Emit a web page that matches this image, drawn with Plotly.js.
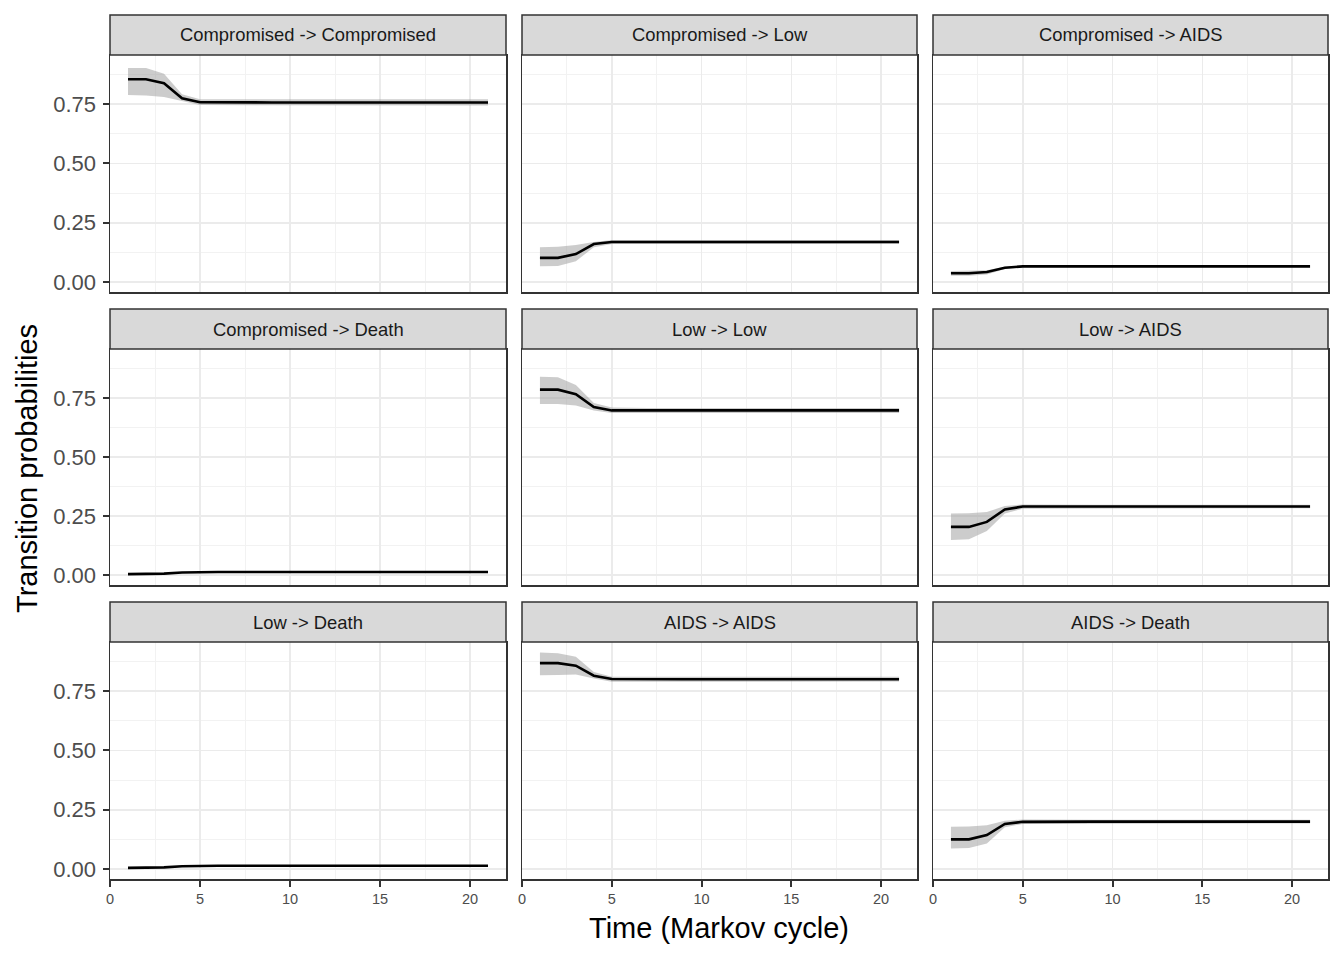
<!DOCTYPE html>
<html>
<head>
<meta charset="utf-8">
<script src="https://cdn.plot.ly/plotly-3.0.1.min.js"></script>
<style>body{margin:0;background:#fff}</style>
</head>
<body>
<div id="myPlot" style="width:1344px;height:960px"></div>
<script>
// Markov cycles
let cycles = [1,2,3,4,5,6,7,8,9,10,11,12,13,14,15,16,17,18,19,20,21];

let panelTitles = ['Compromised -> Compromised','Compromised -> Low','Compromised -> AIDS',
  'Compromised -> Death','Low -> Low','Low -> AIDS',
  'Low -> Death','AIDS -> AIDS','AIDS -> Death'];

// mean, lower and upper bound per transition
let compCompMean = [0.855,0.855,0.838,0.775,0.758, 0.757,0.757,0.757,0.757,0.757,0.757,0.757,0.757, 0.757,0.757,0.757,0.757,0.757,0.757,0.757,0.757];
let compCompLow  = [0.788,0.786,0.780,0.763,0.746, 0.744,0.744,0.744,0.744,0.744,0.744,0.744,0.744, 0.744,0.744,0.744,0.744,0.744,0.744,0.744,0.744];
let compCompHigh = [0.902,0.902,0.878,0.792,0.771, 0.770,0.770,0.770,0.770,0.770,0.770,0.770,0.770, 0.770,0.770,0.770,0.770,0.770,0.770,0.770,0.770];

let compLowMean = [0.102,0.102,0.118,0.160,0.169, 0.169,0.169,0.169,0.169,0.169,0.169,0.169,0.169, 0.169,0.169,0.169,0.169,0.169,0.169,0.169,0.169];
let compLowLow  = [0.067,0.068,0.088,0.147,0.160, 0.161,0.161,0.161,0.161,0.161,0.161,0.161,0.161, 0.161,0.161,0.161,0.161,0.161,0.161,0.161,0.161];
let compLowHigh = [0.147,0.149,0.156,0.169,0.177, 0.177,0.177,0.177,0.177,0.177,0.177,0.177,0.177, 0.177,0.177,0.177,0.177,0.177,0.177,0.177,0.177];

let compAidsMean = [0.037,0.037,0.042,0.060,0.066, 0.066,0.066,0.066,0.066,0.066,0.066,0.066,0.066, 0.066,0.066,0.066,0.066,0.066,0.066,0.066,0.066];
let compAidsLow  = [0.026,0.026,0.032,0.055,0.062, 0.062,0.062,0.062,0.062,0.062,0.062,0.062,0.062, 0.062,0.062,0.062,0.062,0.062,0.062,0.062,0.062];
let compAidsHigh = [0.046,0.047,0.050,0.064,0.069, 0.069,0.069,0.069,0.069,0.069,0.069,0.069,0.069, 0.069,0.069,0.069,0.069,0.069,0.069,0.069,0.069];

let compDeathMean = [0.004,0.004,0.006,0.011,0.013, 0.013,0.013,0.013,0.013,0.013,0.013,0.013,0.013, 0.013,0.013,0.013,0.013,0.013,0.013,0.013,0.013];
let compDeathLow  = [0.002,0.002,0.004,0.010,0.012, 0.012,0.012,0.012,0.012,0.012,0.012,0.012,0.012, 0.012,0.012,0.012,0.012,0.012,0.012,0.012,0.012];
let compDeathHigh = [0.006,0.006,0.008,0.013,0.014, 0.014,0.014,0.014,0.014,0.014,0.014,0.014,0.014, 0.014,0.014,0.014,0.014,0.014,0.014,0.014,0.014];

let lowLowMean = [0.785,0.785,0.766,0.711,0.697, 0.697,0.697,0.697,0.697,0.697,0.697,0.697,0.697, 0.697,0.697,0.697,0.697,0.697,0.697,0.697,0.697];
let lowLowLow  = [0.724,0.724,0.718,0.697,0.686, 0.686,0.686,0.686,0.686,0.686,0.686,0.686,0.686, 0.686,0.686,0.686,0.686,0.686,0.686,0.686,0.686];
let lowLowHigh = [0.840,0.837,0.805,0.728,0.709, 0.707,0.707,0.707,0.707,0.707,0.707,0.707,0.707, 0.707,0.707,0.707,0.707,0.707,0.707,0.707,0.707];

let lowAidsMean = [0.204,0.204,0.225,0.278,0.290, 0.290,0.290,0.290,0.290,0.290,0.290,0.290,0.290, 0.290,0.290,0.290,0.290,0.290,0.290,0.290,0.290];
let lowAidsLow  = [0.149,0.152,0.187,0.261,0.281, 0.283,0.283,0.283,0.283,0.283,0.283,0.283,0.283, 0.283,0.283,0.283,0.283,0.283,0.283,0.283,0.283];
let lowAidsHigh = [0.261,0.262,0.267,0.292,0.299, 0.298,0.298,0.298,0.298,0.298,0.298,0.298,0.298, 0.298,0.298,0.298,0.298,0.298,0.298,0.298,0.298];

let lowDeathMean = [0.005,0.005,0.007,0.012,0.014, 0.014,0.014,0.014,0.014,0.014,0.014,0.014,0.014, 0.014,0.014,0.014,0.014,0.014,0.014,0.014,0.014];
let lowDeathLow  = [0.003,0.003,0.005,0.011,0.013, 0.013,0.013,0.013,0.013,0.013,0.013,0.013,0.013, 0.013,0.013,0.013,0.013,0.013,0.013,0.013,0.013];
let lowDeathHigh = [0.007,0.007,0.009,0.014,0.015, 0.015,0.015,0.015,0.015,0.015,0.015,0.015,0.015, 0.015,0.015,0.015,0.015,0.015,0.015,0.015,0.015];

let aidsAidsMean = [0.868,0.868,0.857,0.815,0.801, 0.800,0.800,0.800,0.800,0.800,0.800,0.800,0.800, 0.800,0.800,0.800,0.800,0.800,0.800,0.800,0.800];
let aidsAidsLow  = [0.817,0.818,0.820,0.803,0.789, 0.790,0.790,0.790,0.790,0.790,0.790,0.790,0.790, 0.790,0.790,0.790,0.790,0.790,0.790,0.790,0.790];
let aidsAidsHigh = [0.913,0.910,0.895,0.831,0.810, 0.810,0.810,0.810,0.810,0.810,0.810,0.810,0.810, 0.810,0.810,0.810,0.810,0.810,0.810,0.810,0.810];

let aidsDeathMean = [0.125,0.125,0.143,0.190,0.199, 0.200,0.200,0.200,0.200,0.200,0.200,0.200,0.200, 0.200,0.200,0.200,0.200,0.200,0.200,0.200,0.200];
let aidsDeathLow  = [0.087,0.089,0.108,0.176,0.190, 0.192,0.192,0.192,0.192,0.192,0.192,0.192,0.192, 0.192,0.192,0.192,0.192,0.192,0.192,0.192,0.192];
let aidsDeathHigh = [0.178,0.179,0.185,0.204,0.209, 0.208,0.208,0.208,0.208,0.208,0.208,0.208,0.208, 0.208,0.208,0.208,0.208,0.208,0.208,0.208,0.208];

let means = [compCompMean,compLowMean,compAidsMean,compDeathMean,lowLowMean,lowAidsMean,lowDeathMean,aidsAidsMean,aidsDeathMean];
let lows  = [compCompLow,compLowLow,compAidsLow,compDeathLow,lowLowLow,lowAidsLow,lowDeathLow,aidsAidsLow,aidsDeathLow];
let highs = [compCompHigh,compLowHigh,compAidsHigh,compDeathHigh,lowLowHigh,lowAidsHigh,lowDeathHigh,aidsAidsHigh,aidsDeathHigh];

// pixel geometry of the facet grid
let W = 1344, H = 960;
let L = 110, R = 1328, T = 15, B = 879;
let cols = [[110,506],[522,917],[933,1328]];
let rows = [{strip:[15,55], panel:[55,292]}, {strip:[309,349], panel:[349,585]}, {strip:[602,642], panel:[642,879]}];
let px = x => (x - L) / (R - L);
let py = y => (B - y) / (B - T);

let font = 'Liberation Sans, Arial, sans-serif';
let data = [];
let layout = {
  width: W, height: H,
  margin: {l: L, r: W - R, t: T, b: H - B},
  paper_bgcolor: '#fff', plot_bgcolor: '#fff',
  showlegend: false,
  shapes: [], annotations: []
};

for (let i = 0; i < 9; i++) {
  let r = Math.floor(i / 3), c = i % 3;
  let sfx = i === 0 ? '' : String(i + 1);
  let xs = cycles.concat(cycles.slice().reverse());
  let ys = highs[i].concat(lows[i].slice().reverse());
  data.push({x: xs, y: ys, xaxis: 'x' + sfx, yaxis: 'y' + sfx, mode: 'lines', fill: 'toself',
    fillcolor: 'rgba(153,153,153,0.5)', line: {width: 0}, hoverinfo: 'skip'});
  data.push({x: cycles, y: means[i], xaxis: 'x' + sfx, yaxis: 'y' + sfx, mode: 'lines',
    line: {color: '#000', width: 2.6}});

  let bottom = r === 2, left = c === 0;
  layout['xaxis' + sfx] = {
    domain: [px(cols[c][0]), px(cols[c][1])], anchor: 'y' + sfx,
    range: [0, 22], tickvals: [0,5,10,15,20], ticktext: ['0','5','10','15','20'],
    showgrid: true, gridcolor: '#EBEBEB', gridwidth: 1.6, zeroline: false,
    minor: {tick0: 0, dtick: 2.5, showgrid: true, gridcolor: '#F2F2F2', gridwidth: 1},
    showline: true, mirror: true, linecolor: '#333333', linewidth: 1.5,
    ticks: bottom ? 'outside' : '', ticklen: 6, tickwidth: 2, tickcolor: '#333333',
    showticklabels: bottom, tickfont: {family: font, size: 14.5, color: '#4D4D4D'}
  };
  layout['yaxis' + sfx] = {
    domain: [py(rows[r].panel[1]), py(rows[r].panel[0])], anchor: 'x' + sfx,
    range: [-0.042, 0.957], tickvals: [0,0.25,0.5,0.75], ticktext: ['0.00','0.25','0.50','0.75'],
    showgrid: true, gridcolor: '#EBEBEB', gridwidth: 1.6, zeroline: false,
    minor: {tick0: 0, dtick: 0.125, showgrid: true, gridcolor: '#F2F2F2', gridwidth: 1},
    showline: true, mirror: true, linecolor: '#333333', linewidth: 1.5,
    ticks: left ? 'outside' : '', ticklen: 6, tickwidth: 2, tickcolor: '#333333',
    ticklabelstandoff: 2,
    showticklabels: left, tickfont: {family: font, size: 22, color: '#4D4D4D'}
  };

  // strip
  layout.shapes.push({type: 'rect', xref: 'paper', yref: 'paper',
    x0: px(cols[c][0]), x1: px(cols[c][1]), y0: py(rows[r].strip[1]), y1: py(rows[r].strip[0]),
    fillcolor: '#D9D9D9', line: {color: '#333333', width: 1.5}});
  layout.annotations.push({xref: 'paper', yref: 'paper', showarrow: false,
    x: px((cols[c][0] + cols[c][1]) / 2), y: py((rows[r].strip[0] + rows[r].strip[1]) / 2),
    xanchor: 'center', yanchor: 'middle', text: panelTitles[i],
    font: {family: font, size: 18.4, color: '#1A1A1A'}});
}

layout.annotations.push({xref: 'paper', yref: 'paper', showarrow: false,
  x: px(719), y: py(928), xanchor: 'center', yanchor: 'middle',
  text: 'Time (Markov cycle)', font: {family: font, size: 29, color: '#000'}});
layout.annotations.push({xref: 'paper', yref: 'paper', showarrow: false,
  x: px(27), y: py(469), xanchor: 'center', yanchor: 'middle', textangle: -90,
  text: 'Transition probabilities', font: {family: font, size: 29, color: '#000'}});

Plotly.newPlot('myPlot', data, layout, {displayModeBar: false, staticPlot: true});
</script>
</body>
</html>
